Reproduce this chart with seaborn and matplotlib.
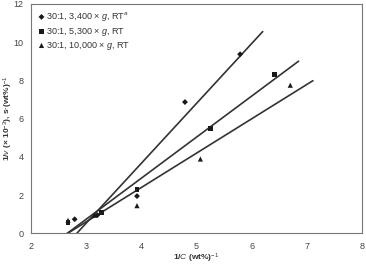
import numpy as np
import pandas as pd
import matplotlib
matplotlib.use("Agg")
import matplotlib.pyplot as plt
import seaborn as sns

# Data
series_names = [
    "30:1, 3,400 × $g$, RT$^{a}$",
    "30:1, 5,300 × $g$, RT",
    "30:1, 10,000 × $g$, RT",
]
x_3400 = [2.79, 3.20, 3.92, 4.79, 5.79]
y_3400 = [0.74, 0.95, 1.95, 6.87, 9.37]
x_5300 = [2.67, 3.28, 3.92, 5.25, 6.42]
y_5300 = [0.55, 1.09, 2.31, 5.47, 8.33]
x_10000 = [2.67, 3.15, 3.92, 5.07, 6.70]
y_10000 = [0.68, 0.95, 1.45, 3.89, 7.75]
# where each fitted line stops on the right
fit_x_end = [6.2, 6.85, 7.11]

xs = [x_3400, x_5300, x_10000]
ys = [y_3400, y_5300, y_10000]
markers = ["D", "s", "^"]
sizes = [9, 12, 14]

df = pd.concat([
    pd.DataFrame({"x": x, "y": y, "Group": name})
    for x, y, name in zip(xs, ys, series_names)
], ignore_index=True)

sns.set_style("white")
plt.rcParams["font.family"] = ["Liberation Sans", "DejaVu Sans"]
plt.rcParams["mathtext.fontset"] = "custom"
plt.rcParams["mathtext.rm"] = "Liberation Sans"
plt.rcParams["mathtext.it"] = "Liberation Sans:italic"
plt.rcParams["mathtext.bf"] = "Liberation Sans:bold"

fig, ax = plt.subplots(figsize=(3.66, 2.64), dpi=100)
fig.subplots_adjust(left=0.085, right=0.989, bottom=0.116, top=0.985)

# Linear fits
for x, y, xe in zip(xs, ys, fit_x_end):
    slope, icpt = np.polyfit(x, y, 1)
    xx = np.array([2.0, xe])
    ax.plot(xx, slope * xx + icpt, color="#333333", lw=1.2, zorder=2)

for name, m, s in zip(series_names, markers, sizes):
    sub = df[df["Group"] == name]
    sns.scatterplot(data=sub, x="x", y="y", marker=m, s=s, color="#1a1a1a",
                    edgecolor="none", label=name, ax=ax, zorder=3)

ax.set_xlim(2, 8)
ax.set_ylim(0, 12)
ax.set_xticks(range(2, 9))
ax.set_yticks(range(0, 13, 2))
ax.tick_params(axis="both", labelsize=6.5, length=2.5, width=0.6, color="#555555",
               direction="out", labelcolor="#444444")
ax.tick_params(axis="x", pad=4)
ax.tick_params(axis="y", pad=3)
for sp in ax.spines.values():
    sp.set_color("#777777")
    sp.set_linewidth(0.8)

ax.set_xlabel("1/$C$ (wt%)$^{-1}$", fontsize=6, fontweight="bold", color="#333333")
ax.xaxis.set_label_coords(0.5, -0.08)
ax.set_ylabel("1/$v$ (× 10$^{-3}$), s·(wt%)$^{-1}$", fontsize=6, fontweight="bold",
              color="#333333")
ax.yaxis.set_label_coords(-0.05, 0.5)

leg = ax.legend(loc="upper left", fontsize=6.5, frameon=False, handletextpad=0.0,
                borderaxespad=0.2, labelspacing=0.25, handlelength=0.9,
                borderpad=0.5)
for t in leg.get_texts():
    t.set_color("#333333")

fig.savefig("out.png", dpi=100)
